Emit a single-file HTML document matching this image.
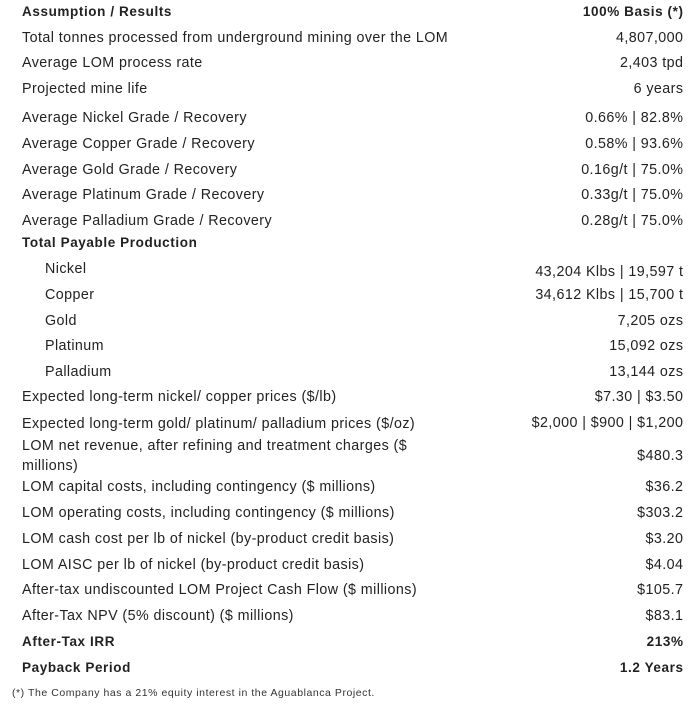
<!DOCTYPE html>
<html><head><meta charset="utf-8"><style>
body{margin:0;width:690px;height:704px;background:#fff;position:relative;font-family:"Liberation Sans",sans-serif;color:#222;overflow:hidden}
.l,.r{position:absolute;font-size:14.3px;line-height:18px;white-space:nowrap;letter-spacing:0.42px}
.l{left:22px}.r{right:6.6px;text-align:right}
.i{left:45px}
.b{font-weight:bold;font-size:13.5px;letter-spacing:0.6px}
.r.b{right:6.4px}
.f{position:absolute;left:12px;top:687px;font-size:10.5px;color:#333;letter-spacing:0.55px;white-space:nowrap}
</style></head><body>
<div class="l b" style="top:3px">Assumption / Results</div><div class="r b" style="top:3px">100% Basis (*)</div>
<div class="l" style="top:29px">Total tonnes processed from underground mining over the LOM</div><div class="r" style="top:29px">4,807,000</div>
<div class="l" style="top:54px">Average LOM process rate</div><div class="r" style="top:54px">2,403 tpd</div>
<div class="l" style="top:80px">Projected mine life</div><div class="r" style="top:80px">6 years</div>
<div class="l" style="top:109px">Average Nickel Grade / Recovery</div><div class="r" style="top:109px">0.66% | 82.8%</div>
<div class="l" style="top:135px">Average Copper Grade / Recovery</div><div class="r" style="top:135px">0.58% | 93.6%</div>
<div class="l" style="top:161px">Average Gold Grade / Recovery</div><div class="r" style="top:161px">0.16g/t | 75.0%</div>
<div class="l" style="top:186px">Average Platinum Grade / Recovery</div><div class="r" style="top:186px">0.33g/t | 75.0%</div>
<div class="l" style="top:212px">Average Palladium Grade / Recovery</div><div class="r" style="top:212px">0.28g/t | 75.0%</div>
<div class="l b" style="top:234px">Total Payable Production</div>
<div class="l i" style="top:260px">Nickel</div><div class="r" style="top:263px">43,204 Klbs | 19,597 t</div>
<div class="l i" style="top:286px">Copper</div><div class="r" style="top:286px">34,612 Klbs | 15,700 t</div>
<div class="l i" style="top:312px">Gold</div><div class="r" style="top:312px">7,205 ozs</div>
<div class="l i" style="top:337px">Platinum</div><div class="r" style="top:337px">15,092 ozs</div>
<div class="l i" style="top:363px">Palladium</div><div class="r" style="top:363px">13,144 ozs</div>
<div class="l" style="top:388px">Expected long-term nickel/ copper prices ($/lb)</div><div class="r" style="top:388px">$7.30 | $3.50</div>
<div class="l" style="top:415px">Expected long-term gold/ platinum/ palladium prices ($/oz)</div><div class="r" style="top:414px">$2,000 | $900 | $1,200</div>
<div class="l" style="top:437px">LOM net revenue, after refining and treatment charges ($</div><div class="l" style="top:457px">millions)</div><div class="r" style="top:447px">$480.3</div>
<div class="l" style="top:478px">LOM capital costs, including contingency ($ millions)</div><div class="r" style="top:478px">$36.2</div>
<div class="l" style="top:504px">LOM operating costs, including contingency ($ millions)</div><div class="r" style="top:504px">$303.2</div>
<div class="l" style="top:530px">LOM cash cost per lb of nickel (by-product credit basis)</div><div class="r" style="top:530px">$3.20</div>
<div class="l" style="top:556px">LOM AISC per lb of nickel (by-product credit basis)</div><div class="r" style="top:556px">$4.04</div>
<div class="l" style="top:581px">After-tax undiscounted LOM Project Cash Flow ($ millions)</div><div class="r" style="top:581px">$105.7</div>
<div class="l" style="top:607px">After-Tax NPV (5% discount) ($ millions)</div><div class="r" style="top:607px">$83.1</div>
<div class="l b" style="top:633px">After-Tax IRR</div><div class="r b" style="top:633px">213%</div>
<div class="l b" style="top:659px">Payback Period</div><div class="r b" style="top:659px">1.2 Years</div>
<div class="f">(*) The Company has a 21% equity interest in the Aguablanca Project.</div>
</body></html>
